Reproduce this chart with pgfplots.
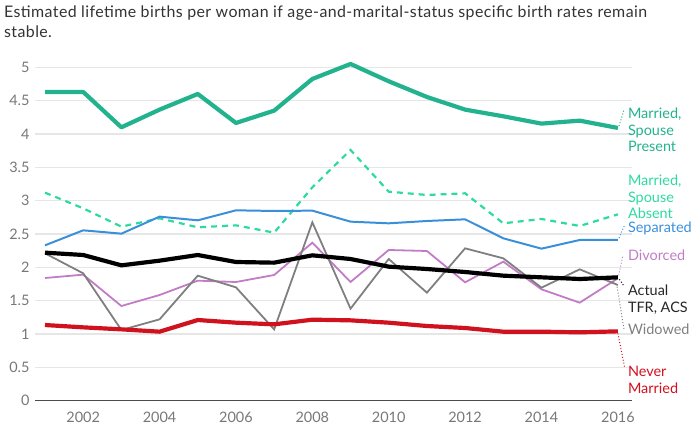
\documentclass[border=0pt]{standalone}
\usepackage{pgfplots}
\pgfplotsset{compat=1.18}
\usepackage{fontspec}
\setmainfont{Lato}
\newfontfamily\titlefont[LetterSpace=2.5]{Lato}

\definecolor{mpres}{HTML}{23B28E}
\definecolor{mabs}{HTML}{2EDB9E}
\definecolor{sep}{HTML}{3A8FDB}
\definecolor{div}{HTML}{C27CC6}
\definecolor{wid}{HTML}{7F7F7F}
\definecolor{nev}{HTML}{D0111E}
\definecolor{tickc}{HTML}{777777}
\definecolor{gridc}{HTML}{E6E6E6}

\begin{document}
\begin{tikzpicture}[x=1bp,y=1bp]
\useasboundingbox (0,0) rectangle (700,436);
\node[anchor=north west, align=left, inner sep=0pt, text=black!80,
      font=\titlefont\fontsize{16}{20}\selectfont] at (4,430)
  {Estimated lifetime births per woman if age-and-marital-status specific birth rates remain\\stable.};
\begin{axis}[
    at={(35bp,35.3bp)}, anchor=south west,
    scale only axis, width=597bp, height=333.4bp,
    xmin=2000.738, xmax=2016.37, ymin=0, ymax=5,
    clip=false,
    axis x line=bottom, axis y line=left,
    x axis line style={-, draw=black!70, line width=1pt},
    y axis line style={draw=none},
    xtick={2002,2004,...,2016},
    ytick={0,0.5,...,5},
    major tick length=0pt,
    xmajorgrids=false, ymajorgrids=true,
    major grid style={draw=gridc, line width=1.3pt},
    /pgf/number format/1000 sep={},
    /pgf/number format/assume math mode=true,
    tick label style={font=\fontsize{14.5}{16}\selectfont, text=tickc},
    xticklabel style={yshift=-8bp},
    yticklabel style={xshift=-2bp},
]
% Married, spouse present
\addplot[mpres, line width=4.2pt, line join=round] coordinates {
 (2001,4.63) (2002,4.63) (2003,4.10) (2004,4.365) (2005,4.60) (2006,4.165)
 (2007,4.35) (2008,4.825) (2009,5.05) (2010,4.79) (2011,4.555) (2012,4.365)
 (2013,4.265) (2014,4.155) (2015,4.20) (2016,4.09)};
% Married, spouse absent
\addplot[mabs, line width=2.2pt, dash pattern=on 6pt off 5pt] coordinates {
 (2001,3.12) (2002,2.885) (2003,2.61) (2004,2.735) (2005,2.60) (2006,2.63)
 (2007,2.52) (2008,3.2) (2009,3.76) (2010,3.135) (2011,3.085) (2012,3.11)
 (2013,2.66) (2014,2.725) (2015,2.62) (2016,2.795)};
% Separated
\addplot[sep, line width=2pt] coordinates {
 (2001,2.33) (2002,2.555) (2003,2.505) (2004,2.76) (2005,2.705) (2006,2.855)
 (2007,2.845) (2008,2.85) (2009,2.685) (2010,2.66) (2011,2.695) (2012,2.72)
 (2013,2.435) (2014,2.28) (2015,2.41) (2016,2.41)};
% Divorced
\addplot[div, line width=1.8pt] coordinates {
 (2001,1.84) (2002,1.89) (2003,1.42) (2004,1.585) (2005,1.80) (2006,1.78)
 (2007,1.885) (2008,2.37) (2009,1.78) (2010,2.26) (2011,2.245) (2012,1.775)
 (2013,2.085) (2014,1.67) (2015,1.47) (2016,1.835)};
% Widowed
\addplot[wid, line width=1.8pt] coordinates {
 (2001,2.21) (2002,1.91) (2003,1.06) (2004,1.22) (2005,1.875) (2006,1.70)
 (2007,1.07) (2008,2.675) (2009,1.38) (2010,2.125) (2011,1.62) (2012,2.285)
 (2013,2.135) (2014,1.695) (2015,1.97) (2016,1.735)};
% Actual TFR, ACS
\addplot[black, line width=4.2pt, line join=round] coordinates {
 (2001,2.22) (2002,2.185) (2003,2.03) (2004,2.10) (2005,2.185) (2006,2.08)
 (2007,2.07) (2008,2.18) (2009,2.125) (2010,2.01) (2011,1.975) (2012,1.93)
 (2013,1.875) (2014,1.85) (2015,1.825) (2016,1.85)};
% Never married
\addplot[nev, line width=4.2pt, line join=round] coordinates {
 (2001,1.135) (2002,1.10) (2003,1.07) (2004,1.035) (2005,1.21) (2006,1.17)
 (2007,1.145) (2008,1.215) (2009,1.205) (2010,1.17) (2011,1.12) (2012,1.09)
 (2013,1.035) (2014,1.035) (2015,1.025) (2016,1.04)};

% leaders
\draw[mpres, dotted, line width=1pt] (axis cs:2016.03,4.12) -- (axis cs:2016.16,4.36);
\draw[sep, dotted, line width=1pt] (axis cs:2016.03,2.44) -- (axis cs:2016.18,2.64);
\draw[div, dotted, line width=1pt] (axis cs:2016.02,1.88) -- (axis cs:2016.13,2.17);
\draw[black, dotted, line width=1pt] (axis cs:2016.04,1.82) -- (axis cs:2016.17,1.71);
\draw[wid, dotted, line width=1pt] (axis cs:2015.98,1.71) -- (axis cs:2016.16,1.07);
\draw[nev, dotted, line width=1pt] (axis cs:2016.0,1.01) -- (axis cs:2016.18,0.49);

% labels
\tikzset{lab/.style={anchor=west, align=left, inner sep=0pt, font=\fontsize{14.5}{16.5}\selectfont}}
\node[lab, text=mpres] at (axis cs:2016.26,4.06) {Married,\\Spouse\\Present};
\node[lab, text=mabs] at (axis cs:2016.26,3.055) {Married,\\Spouse\\Absent};
\node[lab, text=sep] at (axis cs:2016.26,2.59) {Separated};
\node[lab, text=div] at (axis cs:2016.26,2.185) {Divorced};
\node[lab, text=black!85] at (axis cs:2016.26,1.518) {Actual\\TFR, ACS};
\node[lab, text=wid] at (axis cs:2016.26,1.075) {Widowed};
\node[lab, text=nev] at (axis cs:2016.26,0.31) {Never\\Married};
\end{axis}
\end{tikzpicture}
\end{document}
